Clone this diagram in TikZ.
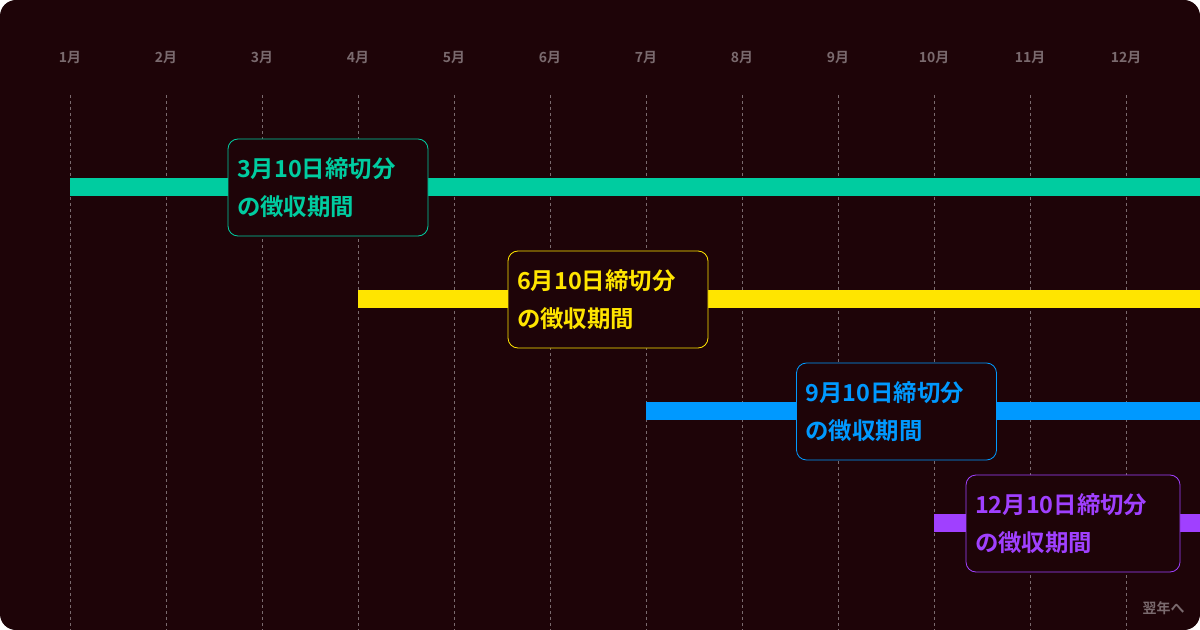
\documentclass[tikz,border=0pt]{standalone}
\usepackage{fontspec}
\setmainfont{Noto Sans CJK JP}[BoldFont={Noto Sans CJK JP Bold}]
\definecolor{bg}{HTML}{1E0408}
\definecolor{mgray}{HTML}{7A6A6E}
\definecolor{cgreen}{HTML}{00CCA0}
\definecolor{cyellow}{HTML}{FFE500}
\definecolor{cblue}{HTML}{0099FF}
\definecolor{cpurple}{HTML}{A040FF}
\tikzset{
 month/.style={text=mgray,font=\bfseries\fontsize{14}{16}\selectfont},
 grid/.style={mgray,line width=0.8bp,dash pattern=on 3bp off 3bp},
 bar/.style={line width=18bp},
 lbl/.style={draw=#1,text=#1,fill=bg,rounded corners=10bp,line width=0.8bp,minimum width=200bp,minimum height=97bp,align=left,text width=182bp,font=\bfseries\fontsize{23.5}{38}\selectfont,inner sep=0pt}
}
\begin{document}
\begin{tikzpicture}[x=1bp,y=-1bp]
\fill[bg,rounded corners=16bp] (0,0) rectangle (1200,630);
\useasboundingbox (0,0) rectangle (1200,630);
\foreach \i [evaluate=\i as \x using {70+96*(\i-1)}] in {1,...,12}{
  \node[month] (m\i) at (\x,58) {{\i}月};
  \draw[grid] (\x,95) -- (\x,630);
}
\coordinate (g0) at (70,187); \coordinate (g1) at (1200,187);
\coordinate (y0) at (358,299); \coordinate (y1) at (1200,299);
\coordinate (b0) at (646,411); \coordinate (b1) at (1200,411);
\coordinate (p0) at (934,523); \coordinate (p1) at (1200,523);
\draw[bar,cgreen] (g0) -- (g1);
\draw[bar,cyellow] (y0) -- (y1);
\draw[bar,cblue] (b0) -- (b1);
\draw[bar,cpurple] (p0) -- (p1);
\node[lbl=cgreen] (lg) at (328,187.5) {3月10日締切分\\の徴収期間};
\node[lbl=cyellow] (ly) at (608,299.5) {6月10日締切分\\の徴収期間};
\node[lbl=cblue] (lb) at (896.5,411.5) {9月10日締切分\\の徴収期間};
\node[lbl=cpurple,minimum width=214bp,text width=196bp] (lp) at (1073,523.5) {12月10日締切分\\の徴収期間};
\node[month,anchor=east] (next) at (1188,608) {翌年へ};
\end{tikzpicture}
\end{document}
